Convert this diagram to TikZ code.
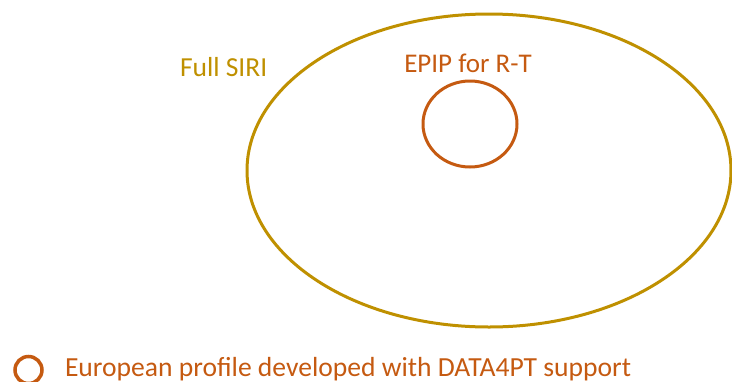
\documentclass[tikz,border=0pt]{standalone}
\usepackage{fontspec}
\setmainfont{Carlito}
\definecolor{siri}{HTML}{BF9000}
\definecolor{epip}{HTML}{C55A11}
\begin{document}
\begin{tikzpicture}[x=1pt,y=-1pt,
  lbl/.style={inner sep=0pt, outer sep=0pt}]
\useasboundingbox (0,0) rectangle (732,381);
\clip (0,0) rectangle (732,381);
% outer set: the full standard
\draw[siri, line width=3pt] (489,170.5) ellipse [x radius=242, y radius=156.5];
% inner set: the profile
\draw[epip, line width=3pt] (470,124) ellipse [x radius=47, y radius=43];
\node[lbl, anchor=base west, text=siri, font=\fontsize{27.5}{30}\selectfont] (full) at (180,76) {Full SIRI};
\node[lbl, anchor=base, text=epip, font=\fontsize{27}{30}\selectfont] (epipl) at (468,72) {EPIP for R-T};
% legend
\draw[epip, line width=3.5pt] (28.5,370) circle [radius=13.5];
\node[lbl, anchor=base west, text=epip, font=\fontsize{27.6}{30}\selectfont] (legend) at (65,376.5) {European profile developed with DATA4PT support};
\end{tikzpicture}
\end{document}
